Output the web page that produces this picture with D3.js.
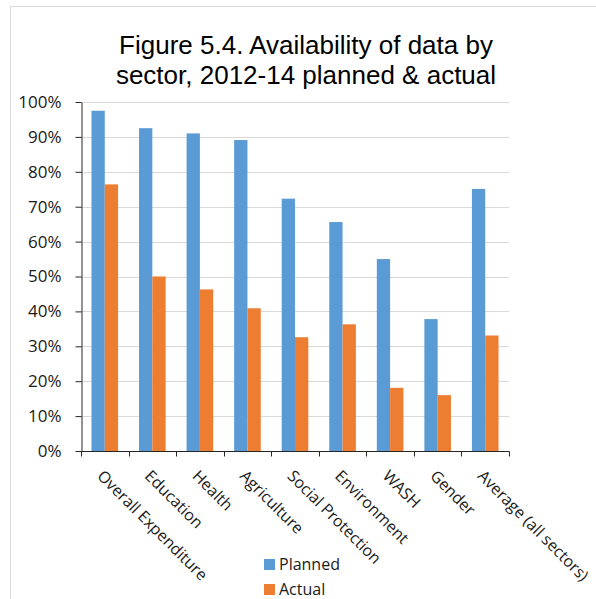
<!DOCTYPE html>
<html>
<head>
<meta charset="utf-8">
<script src="https://cdn.jsdelivr.net/npm/d3@7"></script>
<style>
  html, body { margin: 0; padding: 0; background: #ffffff; }
  svg { display: block; }
</style>
</head>
<body>
<svg id="chart" width="596" height="599"></svg>
<script>
// Sector categories and the share of data available, planned vs actual
const categories = [
  "Overall Expenditure", "Education", "Health", "Agriculture",
  "Social Protection", "Environment", "WASH", "Gender", "Average (all sectors)"
];
const seriesNames = ["Planned", "Actual"];
const planned = [97.5, 92.5, 91.0, 89.1, 72.3, 65.6, 55.0, 37.8, 75.1];
const actual  = [76.4, 50.0, 46.3, 40.9, 32.6, 36.3, 18.1, 16.0, 33.1];
const yTicks = [0, 10, 20, 30, 40, 50, 60, 70, 80, 90, 100];
const titleLines = ["Figure 5.4. Availability of data by", "sector, 2012-14 planned & actual"];

const colors = { Planned: "#5B9BD5", Actual: "#ED7D31" };
const labelFont = "'Open Sans', sans-serif";

const svg = d3.select("#chart");

// outer chart frame
svg.append("rect")
  .attr("x", 10.5).attr("y", 6.5)
  .attr("width", 700).attr("height", 700)
  .attr("fill", "none").attr("stroke", "#d9d9d9").attr("stroke-width", 1);

const plot = { left: 81, right: 509, top: 102, bottom: 451 };

const x0 = d3.scaleBand().domain(categories).range([plot.left, plot.right]).paddingInner(0).paddingOuter(0);
const x1 = d3.scaleBand().domain(seriesNames).range([0, x0.bandwidth()]).paddingInner(0).paddingOuter(0.788);
const y = d3.scaleLinear().domain([0, 100]).range([plot.bottom, plot.top]);

// horizontal gridlines
svg.append("g")
  .selectAll("line")
  .data(yTicks.filter(t => t > 0))
  .join("line")
  .attr("x1", plot.left).attr("x2", plot.right)
  .attr("y1", d => Math.round(y(d)) + 0.5).attr("y2", d => Math.round(y(d)) + 0.5)
  .attr("stroke", "#d9d9d9").attr("stroke-width", 1);

// bars
const rows = categories.map((c, i) => ({ category: c, Planned: planned[i], Actual: actual[i] }));
svg.append("g")
  .selectAll("g")
  .data(rows)
  .join("g")
  .attr("transform", d => `translate(${x0(d.category)},0)`)
  .selectAll("rect")
  .data(d => seriesNames.map(s => ({ key: s, value: d[s] })))
  .join("rect")
  .attr("x", d => x1(d.key))
  .attr("width", x1.bandwidth())
  .attr("y", d => y(d.value))
  .attr("height", d => y(0) - y(d.value))
  .attr("fill", d => colors[d.key]);

// y axis
const yAxis = svg.append("g")
  .attr("transform", `translate(${plot.left + 0.5},0)`)
  .call(d3.axisLeft(y).tickValues(yTicks).tickFormat(d => d + "%").tickSizeOuter(0).tickSizeInner(6).tickPadding(14));
yAxis.select(".domain").attr("stroke", "#262626");
yAxis.selectAll(".tick line").attr("stroke", "#262626");
yAxis.selectAll(".tick text")
  .attr("font-family", labelFont).attr("font-size", 17).attr("fill", "#1a1a1a");

// x axis with ticks at category boundaries
const xAxis = svg.append("g")
  .attr("transform", `translate(0,${plot.bottom + 0.5})`);
xAxis.append("line")
  .attr("x1", plot.left).attr("x2", plot.right + 0.5)
  .attr("stroke", "#262626");
const boundaries = categories.map(c => x0(c)).concat([plot.right]);
xAxis.selectAll("line.tick")
  .data(boundaries)
  .join("line")
  .attr("class", "tick")
  .attr("x1", d => Math.round(d) + 0.5).attr("x2", d => Math.round(d) + 0.5)
  .attr("y1", 0).attr("y2", 5)
  .attr("stroke", "#262626");

// rotated category labels
xAxis.selectAll("text")
  .data(categories)
  .join("text")
  .attr("transform", d => `translate(${x0(d) + x0.bandwidth() / 2},${17}) rotate(45)`)
  .attr("dy", "0.75em")
  .attr("text-anchor", "start")
  .attr("font-family", labelFont).attr("font-size", 16).attr("fill", "#1a1a1a")
  .text(d => d);

// title
svg.append("g")
  .selectAll("text")
  .data(titleLines)
  .join("text")
  .attr("x", 306)
  .attr("y", (d, i) => 54 + i * 30)
  .attr("text-anchor", "middle")
  .attr("font-family", "'Liberation Sans', Arial, sans-serif")
  .attr("font-size", 26)
  .attr("fill", "#000")
  .text(d => d);

// legend
const legend = svg.append("g");
seriesNames.forEach((s, i) => {
  const g = legend.append("g").attr("transform", `translate(264,${559 + i * 25})`);
  g.append("rect").attr("width", 11).attr("height", 11).attr("fill", colors[s]);
  g.append("text")
    .attr("x", 15).attr("y", 11)
    .attr("font-family", labelFont).attr("font-size", 16).attr("fill", "#1a1a1a")
    .text(s);
});
</script>
</body>
</html>
